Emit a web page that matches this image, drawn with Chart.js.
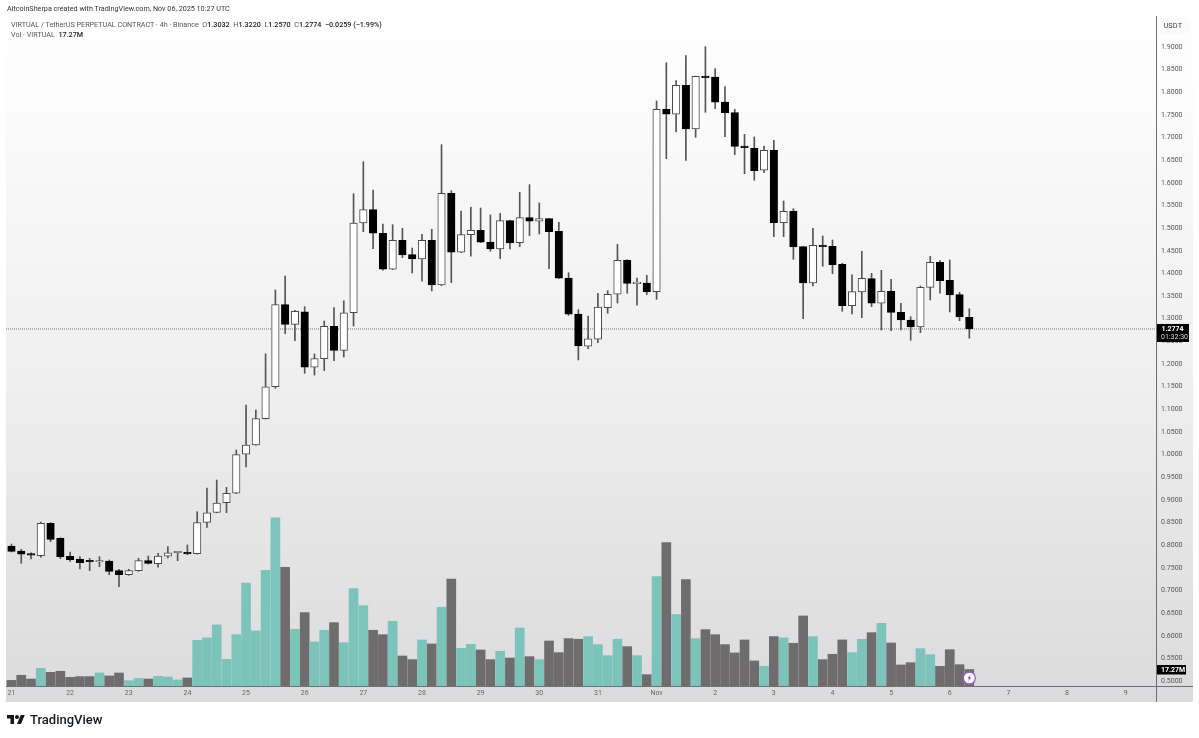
<!DOCTYPE html>
<html>
<head>
<meta charset="utf-8">
<title>VIRTUAL / TetherUS</title>
<script src="https://cdn.jsdelivr.net/npm/chart.js@4"></script>
<style>
  html, body { margin: 0; padding: 0; background: #fff; }
  body { width: 1199px; height: 738px; position: relative; overflow: hidden; font-family: Roboto, sans-serif; }
  #chart { position: absolute; left: 0; top: 0; }
  .txt { position: absolute; white-space: nowrap; color: #555; }
  .txt b { font-weight: 500; color: #222; }
</style>
</head>
<body>
<canvas id="chart" width="1199" height="738"></canvas>
<div class="txt" style="left:7px;top:4px;font-size:7.2px;color:#333;">AltcoinSherpa created with TradingView.com, Nov 06, 2025 10:27 UTC</div>
<div class="txt" style="left:11px;top:20px;font-size:7.2px;">VIRTUAL / TetherUS PERPETUAL CONTRACT · 4h · Binance &nbsp;O<b>1.3032</b> &nbsp;H<b>1.3220</b> &nbsp;L<b>1.2570</b> &nbsp;C<b>1.2774</b> &nbsp;<b>−0.0259 (−1.99%)</b></div>
<div class="txt" style="left:11px;top:30px;font-size:7.2px;">Vol · VIRTUAL &nbsp;<b>17.27M</b></div>
<svg style="position:absolute;left:7px;top:713px" width="18" height="14" viewBox="0 0 36 28" fill="#131722"><path d="M14 22H7V11H0V4h14v18ZM28 22h-8l7.5-18h8L28 22Z"/><circle cx="20" cy="8" r="4"/></svg>
<div class="txt" style="left:30px;top:712px;font-size:13px;font-weight:500;color:#131722;">TradingView</div>
<script>
// 日期刻度，每天 6 根 4h K 线
const dayLabels = ['21','22','23','24','25','26','27','28','29','30','31','Nov','2','3','4','5','6','7','8','9'];
const priceTicks = [0.5,0.55,0.6,0.65,0.7,0.75,0.8,0.85,0.9,0.95,1,1.05,1.1,1.15,1.2,1.25,1.3,1.35,1.4,1.45,1.5,1.55,1.6,1.65,1.7,1.75,1.8,1.85,1.9];

const opens = [.7982,.7872,.7812,.7768,.8483,.8152,.7755,.7689,.7651,.7629,.7651,.7437,.7348,.7437,.7658,.7591,.7755,.7834,.7843,.7812,
  .8505,.8726,.8938,.9146,1.0007,1.0212,1.0793,1.1499,1.3310,1.2877,1.3155,1.1928,1.2118,1.2833,1.2303,1.3133,1.5114,1.5408,1.4887,1.4092,
  1.4732,1.4414,1.4319,1.4732,1.3745,1.5770,1.4467,1.4856,1.4953,1.4694,1.4540,1.5165,1.4679,1.5231,1.5152,1.5209,1.4931,1.3900,1.3105,1.2392,
  1.2546,1.3244,1.3540,1.4297,1.3774,1.3789,1.3597,1.7624,1.7514,1.8154,1.7190,1.8353,1.8338,1.7786,1.7549,1.6814,1.6763,1.6278,1.6719,1.5121,
  1.5379,1.4591,1.3789,1.4622,1.4599,1.4202,1.3288,1.3590,1.3884,1.3341,1.3606,1.3142,1.2972,1.2818,1.3694,1.4246,1.3849,1.3531,1.3032];
const highs = [.8026,.7909,.7834,.8512,.8497,.8165,.7850,.7746,.7710,.7746,.7673,.7468,.7468,.7710,.7761,.7821,.7967,.7860,.8004,.8740,
  .9263,.9439,.9278,1.0102,1.1095,1.0985,1.2228,1.3635,1.3944,1.3186,1.3266,1.2222,1.2950,1.3244,1.3398,1.5761,1.6467,1.5843,1.5092,1.5076,
  1.4997,1.4562,1.4865,1.4975,1.6843,1.5827,1.5379,1.5461,1.5445,1.5291,1.5328,1.5170,1.5792,1.5960,1.5556,1.5215,1.5129,1.4017,1.3200,1.3061,
  1.3562,1.3619,1.4644,1.4300,1.3900,1.3959,1.7808,1.8653,1.8256,1.8808,1.8358,1.9007,1.8521,1.8124,1.7624,1.7072,1.7013,1.6814,1.6940,1.5600,
  1.5430,1.4595,1.4997,1.4827,1.4739,1.4224,1.3972,1.4489,1.4003,1.4070,1.3871,1.3341,1.3045,1.3723,1.4379,1.4282,1.4297,1.3584,1.3220];
const lows = [.7850,.7600,.7695,.7733,.8077,.7702,.7644,.7474,.7437,.7525,.7348,.7084,.7335,.7423,.7585,.7512,.7717,.7658,.7790,.7805,
  .8395,.8717,.8717,.9137,.9726,1.0206,1.0786,1.1464,1.2670,1.2515,1.1795,1.1758,1.1853,1.2074,1.2155,1.2840,1.4922,1.4547,1.4070,1.4083,
  1.4348,1.4010,1.3827,1.3613,1.3729,1.3796,1.4458,1.4379,1.4679,1.4489,1.4326,1.4540,1.4591,1.4834,1.4871,1.4105,1.3890,1.3076,1.2089,1.2339,
  1.2471,1.3120,1.3348,1.3562,1.3297,1.3531,1.3429,1.6534,1.7123,1.6498,1.7006,1.7558,1.7638,1.7020,1.6622,1.6202,1.6057,1.6225,1.4812,1.4812,
  1.4312,1.3001,1.3723,1.4158,1.3994,1.3164,1.3105,1.3023,1.3266,1.2751,1.2736,1.2751,1.2524,1.2692,1.3414,1.3562,1.3149,1.2957,1.2570];
const closes = [.7865,.7799,.7777,.8483,.8130,.7746,.7680,.7613,.7635,.7644,.7423,.7348,.7437,.7658,.7600,.7761,.7834,.7850,.7805,.8497,
  .8717,.8932,.9146,.9998,1.0212,1.0793,1.1499,1.3310,1.2877,1.3164,1.1928,1.2118,1.2833,1.2303,1.3133,1.5114,1.5408,1.4887,1.4092,1.4732,
  1.4407,1.4319,1.4732,1.3745,1.5770,1.4467,1.4856,1.4953,1.4688,1.4540,1.5165,1.4672,1.5231,1.5152,1.5209,1.4922,1.3893,1.3098,1.2398,1.2559,
  1.3259,1.3540,1.4290,1.3782,1.3789,1.3597,1.7624,1.7514,1.8154,1.7190,1.8353,1.8322,1.7779,1.7549,1.6807,1.6777,1.6269,1.6719,1.5121,1.5372,
  1.4584,1.3789,1.4622,1.4591,1.4193,1.3288,1.3597,1.3893,1.3341,1.3606,1.3142,1.2972,1.2818,1.3694,1.4246,1.3840,1.3524,1.3038,1.2774];
// 成交量（百万）
const volumes = [5.9,11.2,7.3,18.5,14.3,15.4,9.1,9.8,9.8,13.6,10.5,13.6,5.6,8.0,7.3,10.1,9.4,6.3,8.4,47.8,
  50.3,63.9,27.9,53.7,107.8,57.6,121.1,175.9,124.2,59.3,76.8,46.1,58.3,66.3,45.4,101.9,84.1,58.3,53.7,67.7,
  31.4,27.6,48.2,44.0,82.4,112,39.4,43.6,37.7,27.6,36.3,29.3,60.7,30.7,27.6,47.1,34.9,49.6,48.9,51.7,
  43.3,31.8,48.9,41.2,31.8,11.9,114.5,150.1,74.7,111.3,49.6,59,53.7,43.3,34.6,48.2,26.2,20.6,51.7,50.3,
  44.7,73.3,51.7,27.6,33.2,48.2,34.9,48.9,55.8,65.6,45,22,24.4,39.1,32.8,20.6,38,22.3,17.27];
const lastPrice = 1.2774;
const countdown = '01:32:30';

const CANDLES_PER_DAY = 6;
const xMin = -0.56, xMax = 117.1;

function isUp(i) { return closes[i] >= opens[i]; }

// 背景、坐标轴线、价格标签
const panelPlugin = {
  id: 'panel',
  beforeDraw(chart) {
    const ctx = chart.ctx;
    const grad = ctx.createLinearGradient(0, 16, 0, 702);
    grad.addColorStop(0, '#ffffff');
    grad.addColorStop(0.5, '#f0f0f0');
    grad.addColorStop(1, '#dbdadc');
    ctx.fillStyle = grad;
    ctx.fillRect(6, 16, 1187, 686);
  },
  afterDraw(chart) {
    const ctx = chart.ctx;
    const y = chart.scales.y, vol = chart.scales.vol, x = chart.scales.x;
    ctx.save();
    ctx.strokeStyle = '#6f6e70';
    ctx.lineWidth = 1;
    ctx.beginPath();
    ctx.moveTo(1156.5, 16); ctx.lineTo(1156.5, 702);
    ctx.moveTo(6, 686.5); ctx.lineTo(1193, 686.5);
    ctx.stroke();

    // USDT
    ctx.fillStyle = '#fbfbfb';
    ctx.fillRect(1158, 18, 31, 16);
    ctx.font = '7.5px Roboto';
    ctx.fillStyle = '#444';
    ctx.textAlign = 'left';
    ctx.textBaseline = 'middle';
    ctx.fillText('USDT', 1163.5, 26.5);

    // 最新价标签
    const py = y.getPixelForValue(lastPrice);
    ctx.fillStyle = '#000';
    ctx.fillRect(1157, py - 5, 32, 18);
    ctx.font = 'bold 7px Roboto';
    ctx.fillStyle = '#fff';
    ctx.fillText(lastPrice.toFixed(4), 1161.5, py);
    ctx.font = '7px Roboto';
    ctx.fillStyle = '#ddd';
    ctx.fillText(countdown, 1161, py + 8.5);

    // 成交量标签
    const vy = vol.getPixelForValue(volumes[volumes.length - 1]);
    ctx.fillStyle = '#000';
    ctx.fillRect(1157, vy - 4.5, 29, 9.5);
    ctx.font = 'bold 7px Roboto';
    ctx.fillStyle = '#fff';
    ctx.fillText(volumes[volumes.length - 1] + 'M', 1161, vy + 0.5);

    // 闪电图标
    const ix = x.getPixelForValue(volumes.length - 1), iy = 678;
    ctx.beginPath();
    ctx.arc(ix, iy, 6, 0, Math.PI * 2);
    ctx.fillStyle = '#fff';
    ctx.fill();
    ctx.strokeStyle = '#a25fc4';
    ctx.lineWidth = 1.3;
    ctx.stroke();
    ctx.beginPath();
    ctx.moveTo(ix + 1.3, iy - 3.2); ctx.lineTo(ix - 2, iy + 0.6); ctx.lineTo(ix - 0.2, iy + 0.6);
    ctx.lineTo(ix - 1.3, iy + 3.2); ctx.lineTo(ix + 2, iy - 0.6); ctx.lineTo(ix + 0.2, iy - 0.6);
    ctx.closePath();
    ctx.fillStyle = '#8e44ad';
    ctx.fill();
    ctx.restore();
  }
};

function createChart() {
  const canvas = document.getElementById('chart');
  const ctx = canvas.getContext('2d');
  const idx = opens.map((_, i) => i);

  new Chart(ctx, {
    type: 'bar',
    data: {
      datasets: [
        {
          label: 'body',
          order: 1,
          grouped: false,
          xAxisID: 'x',
          yAxisID: 'y',
          data: idx.map(i => ({ x: i, y: [Math.min(opens[i], closes[i]), Math.max(opens[i], closes[i])] })),
          backgroundColor: idx.map(i => isUp(i) ? '#ffffff' : '#000000'),
          borderColor: idx.map(i => isUp(i) ? '#4a4a4a' : '#000000'),
          borderWidth: 1,
          borderSkipped: false,
          barThickness: 7.5,
          minBarLength: 1.5
        },
        {
          label: 'wick',
          order: 2,
          grouped: false,
          xAxisID: 'x',
          yAxisID: 'y',
          data: idx.map(i => ({ x: i, y: [lows[i], highs[i]] })),
          backgroundColor: '#555555',
          barThickness: 1
        },
        {
          label: 'last',
          type: 'line',
          order: 3,
          xAxisID: 'x',
          yAxisID: 'y',
          data: [{ x: xMin, y: lastPrice }, { x: xMax, y: lastPrice }],
          borderColor: '#777777',
          borderWidth: 1,
          borderDash: [1, 1],
          pointRadius: 0
        },
        {
          label: 'Vol',
          order: 4,
          grouped: false,
          xAxisID: 'x',
          yAxisID: 'vol',
          data: idx.map(i => ({ x: i, y: volumes[i] })),
          backgroundColor: idx.map(i => isUp(i) ? '#7cc4ba' : '#6e6c6d'),
          barThickness: 9
        }
      ]
    },
    options: {
      responsive: false,
      animation: false,
      layout: { padding: { left: 6, top: 17, right: 9, bottom: 36 } },
      plugins: { legend: { display: false }, tooltip: { enabled: false }, title: { display: false } },
      scales: {
        x: {
          type: 'linear',
          offset: false,
          min: xMin,
          max: xMax,
          grid: { display: false, drawTicks: false },
          border: { display: false },
          afterFit(scale) { scale.height = 16; },
          afterBuildTicks(scale) { scale.ticks = dayLabels.map((_, i) => ({ value: i * CANDLES_PER_DAY })); },
          ticks: {
            autoSkip: false,
            maxRotation: 0,
            padding: 3,
            color: '#666',
            font: { family: 'Roboto', size: 7 },
            callback: v => dayLabels[v / CANDLES_PER_DAY]
          }
        },
        y: {
          position: 'right',
          min: 0.4891,
          max: 1.9662,
          grid: { display: false, drawTicks: false },
          border: { display: false },
          afterFit(scale) { scale.width = 34; },
          afterBuildTicks(scale) { scale.ticks = priceTicks.map(v => ({ value: v })); },
          ticks: {
            autoSkip: false,
            padding: 5,
            color: '#555',
            font: { family: 'Roboto', size: 7 },
            callback: v => v.toFixed(4)
          }
        },
        vol: {
          display: false,
          position: 'left',
          min: 0,
          max: 700,
          grid: { display: false }
        }
      }
    },
    plugins: [panelPlugin]
  });
}

createChart();
</script>
</body>
</html>
